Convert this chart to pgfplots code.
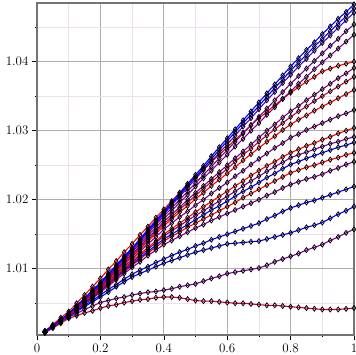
\documentclass[border=0pt]{standalone}
\usepackage{fontspec}
\usepackage{pgfplots}
\pgfplotsset{compat=1.18}
\definecolor{mred}{RGB}{255,0,0}
\definecolor{mblue}{RGB}{0,0,255}
\definecolor{mpurp}{RGB}{128,0,150}
\definecolor{mcrim}{RGB}{205,0,60}
\definecolor{mvio}{RGB}{85,0,210}
\definecolor{mgrid}{RGB}{238,222,238}
\begin{document}
\begin{tikzpicture}
\begin{axis}[name=ax, scale only axis, width=317pt, height=332pt,
  xmin=0, xmax=1, ymin=1.0004, ymax=1.0485,
  xtick={0,0.2,0.4,0.6,0.8,1}, ytick={1.01,1.02,1.03,1.04},
  minor xtick={0.1,0.3,0.5,0.7,0.9}, minor ytick={1.005,1.015,1.025,1.035,1.045},
  scaled y ticks=false,
  grid=both,
  major grid style={color=black!32, line width=0.8pt},
  minor grid style={color=mgrid, line width=0.8pt},
  axis line style={draw=black!55, line width=1.6pt},
  tick align=outside, tick pos=left,
  major tick length=5pt, minor tick length=2pt,
  every tick/.style={black, line width=0.6pt},
  tick label style={font=\fontsize{13}{15}\selectfont},
  /pgf/number format/assume math mode=true,
  yticklabel style={/pgf/number format/.cd, fixed, precision=2, fixed zerofill},
  xticklabel style={/pgf/number format/.cd, fixed, precision=1},
  every axis plot/.append style={line width=1.1pt, mark=diamond, mark size=2.5pt,
     mark options={draw=black, fill=none, line width=0.75pt, solid}},
]
% c19
\addplot[color=mcrim] coordinates {(0.025,1.0007)(0.05,1.0014)(0.075,1.0021)(0.1,1.0028)(0.125,1.0032)(0.15,1.0036)(0.175,1.0039)(0.2,1.0043)(0.225,1.0046)(0.25,1.0048)(0.275,1.0051)(0.3,1.0053)(0.325,1.0055)(0.35,1.0056)(0.375,1.0058)(0.4,1.0059)(0.425,1.0059)(0.45,1.0058)(0.475,1.0056)(0.5,1.0054)(0.525,1.0053)(0.55,1.0053)(0.575,1.0052)(0.6,1.0051)(0.625,1.0050)(0.65,1.0050)(0.675,1.0049)(0.7,1.0048)(0.725,1.0047)(0.75,1.0047)(0.775,1.0046)(0.8,1.0045)(0.825,1.0044)(0.85,1.0043)(0.875,1.0042)(0.9,1.0041)(0.925,1.0041)(0.95,1.0041)(0.975,1.0042)(1,1.0043)};
% c18
\addplot[color=mpurp] coordinates {(0.025,1.0008)(0.05,1.0015)(0.075,1.0023)(0.1,1.0030)(0.125,1.0035)(0.15,1.0041)(0.175,1.0046)(0.2,1.0051)(0.225,1.0054)(0.25,1.0057)(0.275,1.0059)(0.3,1.0062)(0.325,1.0064)(0.35,1.0066)(0.375,1.0067)(0.4,1.0069)(0.425,1.0071)(0.45,1.0074)(0.475,1.0076)(0.5,1.0078)(0.525,1.0082)(0.55,1.0086)(0.575,1.0089)(0.6,1.0093)(0.625,1.0095)(0.65,1.0097)(0.675,1.0099)(0.7,1.0101)(0.725,1.0105)(0.75,1.0110)(0.775,1.0114)(0.8,1.0118)(0.825,1.0122)(0.85,1.0127)(0.875,1.0131)(0.9,1.0135)(0.925,1.0141)(0.95,1.0146)(0.975,1.0152)(1,1.0157)};
% c17
\addplot[color=mblue] coordinates {(0.025,1.0008)(0.05,1.0016)(0.075,1.0023)(0.1,1.0031)(0.125,1.0038)(0.15,1.0045)(0.175,1.0052)(0.2,1.0059)(0.225,1.0066)(0.25,1.0074)(0.275,1.0081)(0.3,1.0088)(0.325,1.0093)(0.35,1.0098)(0.375,1.0103)(0.4,1.0108)(0.425,1.0112)(0.45,1.0116)(0.475,1.0120)(0.5,1.0124)(0.525,1.0127)(0.55,1.0130)(0.575,1.0133)(0.6,1.0136)(0.625,1.0137)(0.65,1.0138)(0.675,1.0139)(0.7,1.0140)(0.725,1.0143)(0.75,1.0146)(0.775,1.0149)(0.8,1.0152)(0.825,1.0156)(0.85,1.0160)(0.875,1.0163)(0.9,1.0167)(0.925,1.0173)(0.95,1.0179)(0.975,1.0184)(1,1.0190)};
% c16
\addplot[color=mblue] coordinates {(0.025,1.0008)(0.05,1.0016)(0.075,1.0023)(0.1,1.0031)(0.125,1.0039)(0.15,1.0047)(0.175,1.0054)(0.2,1.0062)(0.225,1.0070)(0.25,1.0077)(0.275,1.0085)(0.3,1.0092)(0.325,1.0098)(0.35,1.0103)(0.375,1.0109)(0.4,1.0114)(0.425,1.0119)(0.45,1.0124)(0.475,1.0128)(0.5,1.0133)(0.525,1.0137)(0.55,1.0142)(0.575,1.0146)(0.6,1.0150)(0.625,1.0154)(0.65,1.0158)(0.675,1.0162)(0.7,1.0166)(0.725,1.0172)(0.75,1.0177)(0.775,1.0183)(0.8,1.0188)(0.825,1.0192)(0.85,1.0196)(0.875,1.0199)(0.9,1.0203)(0.925,1.0207)(0.95,1.0211)(0.975,1.0215)(1,1.0219)};
% c15
\addplot[color=mpurp] coordinates {(0.025,1.0008)(0.05,1.0016)(0.075,1.0023)(0.1,1.0031)(0.125,1.0040)(0.15,1.0049)(0.175,1.0057)(0.2,1.0066)(0.225,1.0075)(0.25,1.0084)(0.275,1.0093)(0.3,1.0102)(0.325,1.0110)(0.35,1.0119)(0.375,1.0127)(0.4,1.0135)(0.425,1.0141)(0.45,1.0147)(0.475,1.0153)(0.5,1.0159)(0.525,1.0164)(0.55,1.0170)(0.575,1.0175)(0.6,1.0180)(0.625,1.0185)(0.65,1.0190)(0.675,1.0195)(0.7,1.0200)(0.725,1.0206)(0.75,1.0211)(0.775,1.0217)(0.8,1.0222)(0.825,1.0226)(0.85,1.0230)(0.875,1.0233)(0.9,1.0237)(0.925,1.0242)(0.95,1.0246)(0.975,1.0251)(1,1.0255)};
% c14
\addplot[color=mred] coordinates {(0.025,1.0008)(0.05,1.0016)(0.075,1.0024)(0.1,1.0032)(0.125,1.0041)(0.15,1.0050)(0.175,1.0058)(0.2,1.0067)(0.225,1.0077)(0.25,1.0086)(0.275,1.0096)(0.3,1.0105)(0.325,1.0114)(0.35,1.0123)(0.375,1.0131)(0.4,1.0140)(0.425,1.0147)(0.45,1.0153)(0.475,1.0160)(0.5,1.0166)(0.525,1.0172)(0.55,1.0178)(0.575,1.0184)(0.6,1.0190)(0.625,1.0196)(0.65,1.0203)(0.675,1.0209)(0.7,1.0215)(0.725,1.0221)(0.75,1.0227)(0.775,1.0233)(0.8,1.0239)(0.825,1.0243)(0.85,1.0247)(0.875,1.0250)(0.9,1.0254)(0.925,1.0258)(0.95,1.0261)(0.975,1.0265)(1,1.0268)};
% c13
\addplot[color=mblue] coordinates {(0.025,1.0008)(0.05,1.0016)(0.075,1.0024)(0.1,1.0032)(0.125,1.0041)(0.15,1.0050)(0.175,1.0059)(0.2,1.0068)(0.225,1.0078)(0.25,1.0088)(0.275,1.0097)(0.3,1.0107)(0.325,1.0116)(0.35,1.0125)(0.375,1.0134)(0.4,1.0143)(0.425,1.0150)(0.45,1.0157)(0.475,1.0164)(0.5,1.0171)(0.525,1.0178)(0.55,1.0185)(0.575,1.0191)(0.6,1.0198)(0.625,1.0205)(0.65,1.0212)(0.675,1.0218)(0.7,1.0225)(0.725,1.0232)(0.75,1.0238)(0.775,1.0245)(0.8,1.0251)(0.825,1.0255)(0.85,1.0260)(0.875,1.0264)(0.9,1.0268)(0.925,1.0272)(0.95,1.0276)(0.975,1.0279)(1,1.0283)};
% c12
\addplot[color=mpurp] coordinates {(0.025,1.0008)(0.05,1.0016)(0.075,1.0024)(0.1,1.0032)(0.125,1.0041)(0.15,1.0051)(0.175,1.0060)(0.2,1.0069)(0.225,1.0079)(0.25,1.0089)(0.275,1.0099)(0.3,1.0109)(0.325,1.0119)(0.35,1.0128)(0.375,1.0138)(0.4,1.0147)(0.425,1.0155)(0.45,1.0162)(0.475,1.0170)(0.5,1.0177)(0.525,1.0184)(0.55,1.0191)(0.575,1.0198)(0.6,1.0205)(0.625,1.0212)(0.65,1.0220)(0.675,1.0227)(0.7,1.0234)(0.725,1.0241)(0.75,1.0248)(0.775,1.0254)(0.8,1.0261)(0.825,1.0265)(0.85,1.0269)(0.875,1.0273)(0.9,1.0277)(0.925,1.0281)(0.95,1.0284)(0.975,1.0288)(1,1.0291)};
% c11
\addplot[color=mred] coordinates {(0.025,1.0008)(0.05,1.0017)(0.075,1.0025)(0.1,1.0033)(0.125,1.0042)(0.15,1.0052)(0.175,1.0061)(0.2,1.0070)(0.225,1.0080)(0.25,1.0091)(0.275,1.0101)(0.3,1.0111)(0.325,1.0121)(0.35,1.0131)(0.375,1.0140)(0.4,1.0150)(0.425,1.0158)(0.45,1.0166)(0.475,1.0174)(0.5,1.0182)(0.525,1.0190)(0.55,1.0197)(0.575,1.0205)(0.6,1.0212)(0.625,1.0220)(0.65,1.0227)(0.675,1.0235)(0.7,1.0242)(0.725,1.0249)(0.75,1.0255)(0.775,1.0262)(0.8,1.0268)(0.825,1.0273)(0.85,1.0278)(0.875,1.0282)(0.9,1.0287)(0.925,1.0291)(0.95,1.0296)(0.975,1.0300)(1,1.0304)};
% c10
\addplot[color=mpurp] coordinates {(0.025,1.0008)(0.05,1.0017)(0.075,1.0025)(0.1,1.0033)(0.125,1.0043)(0.15,1.0052)(0.175,1.0062)(0.2,1.0071)(0.225,1.0082)(0.25,1.0093)(0.275,1.0103)(0.3,1.0114)(0.325,1.0125)(0.35,1.0136)(0.375,1.0146)(0.4,1.0157)(0.425,1.0166)(0.45,1.0175)(0.475,1.0183)(0.5,1.0192)(0.525,1.0200)(0.55,1.0209)(0.575,1.0217)(0.6,1.0225)(0.625,1.0234)(0.65,1.0242)(0.675,1.0251)(0.7,1.0259)(0.725,1.0267)(0.75,1.0275)(0.775,1.0282)(0.8,1.0290)(0.825,1.0295)(0.85,1.0301)(0.875,1.0306)(0.9,1.0311)(0.925,1.0316)(0.95,1.0321)(0.975,1.0325)(1,1.0330)};
% c9
\addplot[color=mred] coordinates {(0.025,1.0008)(0.05,1.0017)(0.075,1.0025)(0.1,1.0033)(0.125,1.0043)(0.15,1.0053)(0.175,1.0063)(0.2,1.0073)(0.225,1.0084)(0.25,1.0095)(0.275,1.0106)(0.3,1.0117)(0.325,1.0128)(0.35,1.0140)(0.375,1.0151)(0.4,1.0162)(0.425,1.0172)(0.45,1.0182)(0.475,1.0191)(0.5,1.0201)(0.525,1.0210)(0.55,1.0220)(0.575,1.0229)(0.6,1.0238)(0.625,1.0247)(0.65,1.0257)(0.675,1.0266)(0.7,1.0275)(0.725,1.0284)(0.75,1.0292)(0.775,1.0301)(0.8,1.0309)(0.825,1.0316)(0.85,1.0322)(0.875,1.0329)(0.9,1.0335)(0.925,1.0341)(0.95,1.0347)(0.975,1.0353)(1,1.0359)};
% c8
\addplot[color=mcrim] coordinates {(0.025,1.0009)(0.05,1.0017)(0.075,1.0026)(0.1,1.0034)(0.125,1.0044)(0.15,1.0054)(0.175,1.0064)(0.2,1.0074)(0.225,1.0085)(0.25,1.0097)(0.275,1.0108)(0.3,1.0119)(0.325,1.0131)(0.35,1.0142)(0.375,1.0154)(0.4,1.0165)(0.425,1.0175)(0.45,1.0186)(0.475,1.0196)(0.5,1.0206)(0.525,1.0216)(0.55,1.0226)(0.575,1.0235)(0.6,1.0245)(0.625,1.0255)(0.65,1.0265)(0.675,1.0274)(0.7,1.0284)(0.725,1.0293)(0.75,1.0302)(0.775,1.0311)(0.8,1.0320)(0.825,1.0328)(0.85,1.0335)(0.875,1.0343)(0.9,1.0350)(0.925,1.0357)(0.95,1.0364)(0.975,1.0371)(1,1.0378)};
% c7
\addplot[color=mpurp] coordinates {(0.025,1.0009)(0.05,1.0017)(0.075,1.0026)(0.1,1.0034)(0.125,1.0044)(0.15,1.0055)(0.175,1.0065)(0.2,1.0075)(0.225,1.0087)(0.25,1.0098)(0.275,1.0110)(0.3,1.0121)(0.325,1.0133)(0.35,1.0145)(0.375,1.0156)(0.4,1.0168)(0.425,1.0179)(0.45,1.0189)(0.475,1.0200)(0.5,1.0210)(0.525,1.0220)(0.55,1.0230)(0.575,1.0240)(0.6,1.0250)(0.625,1.0260)(0.65,1.0270)(0.675,1.0280)(0.7,1.0290)(0.725,1.0300)(0.75,1.0309)(0.775,1.0319)(0.8,1.0328)(0.825,1.0336)(0.85,1.0344)(0.875,1.0352)(0.9,1.0360)(0.925,1.0368)(0.95,1.0376)(0.975,1.0383)(1,1.0391)};
% c6
\addplot[color=mred] coordinates {(0.025,1.0010)(0.05,1.0019)(0.075,1.0029)(0.1,1.0038)(0.125,1.0050)(0.15,1.0062)(0.175,1.0074)(0.2,1.0086)(0.225,1.0099)(0.25,1.0111)(0.275,1.0124)(0.3,1.0136)(0.325,1.0149)(0.35,1.0161)(0.375,1.0174)(0.4,1.0186)(0.425,1.0198)(0.45,1.0210)(0.475,1.0221)(0.5,1.0233)(0.525,1.0244)(0.55,1.0255)(0.575,1.0265)(0.6,1.0276)(0.625,1.0287)(0.65,1.0297)(0.675,1.0308)(0.7,1.0318)(0.725,1.0327)(0.75,1.0337)(0.775,1.0346)(0.8,1.0355)(0.825,1.0363)(0.85,1.0371)(0.875,1.0378)(0.9,1.0386)(0.925,1.0390)(0.95,1.0394)(0.975,1.0397)(1,1.0400)};
% c5
\addplot[color=mpurp] coordinates {(0.025,1.0009)(0.05,1.0017)(0.075,1.0026)(0.1,1.0034)(0.125,1.0045)(0.15,1.0055)(0.175,1.0066)(0.2,1.0076)(0.225,1.0088)(0.25,1.0100)(0.275,1.0112)(0.3,1.0124)(0.325,1.0136)(0.35,1.0148)(0.375,1.0160)(0.4,1.0172)(0.425,1.0184)(0.45,1.0196)(0.475,1.0207)(0.5,1.0219)(0.525,1.0231)(0.55,1.0242)(0.575,1.0254)(0.6,1.0265)(0.625,1.0277)(0.65,1.0288)(0.675,1.0300)(0.7,1.0311)(0.725,1.0323)(0.75,1.0334)(0.775,1.0346)(0.8,1.0357)(0.825,1.0368)(0.85,1.0378)(0.875,1.0389)(0.9,1.0399)(0.925,1.0409)(0.95,1.0419)(0.975,1.0429)(1,1.0439)};
% c4
\addplot[color=mpurp] coordinates {(0.025,1.0009)(0.05,1.0017)(0.075,1.0026)(0.1,1.0034)(0.125,1.0045)(0.15,1.0056)(0.175,1.0066)(0.2,1.0077)(0.225,1.0089)(0.25,1.0102)(0.275,1.0114)(0.3,1.0126)(0.325,1.0139)(0.35,1.0151)(0.375,1.0164)(0.4,1.0176)(0.425,1.0188)(0.45,1.0200)(0.475,1.0212)(0.5,1.0224)(0.525,1.0236)(0.55,1.0248)(0.575,1.0260)(0.6,1.0272)(0.625,1.0284)(0.65,1.0296)(0.675,1.0308)(0.7,1.0320)(0.725,1.0332)(0.75,1.0344)(0.775,1.0356)(0.8,1.0368)(0.825,1.0379)(0.85,1.0390)(0.875,1.0401)(0.9,1.0412)(0.925,1.0423)(0.95,1.0433)(0.975,1.0444)(1,1.0454)};
% c3
\addplot[color=mvio] coordinates {(0.025,1.0009)(0.05,1.0017)(0.075,1.0026)(0.1,1.0035)(0.125,1.0046)(0.15,1.0057)(0.175,1.0067)(0.2,1.0078)(0.225,1.0091)(0.25,1.0103)(0.275,1.0116)(0.3,1.0128)(0.325,1.0141)(0.35,1.0154)(0.375,1.0166)(0.4,1.0179)(0.425,1.0192)(0.45,1.0205)(0.475,1.0217)(0.5,1.0230)(0.525,1.0243)(0.55,1.0255)(0.575,1.0268)(0.6,1.0280)(0.625,1.0293)(0.65,1.0306)(0.675,1.0318)(0.7,1.0331)(0.725,1.0344)(0.75,1.0356)(0.775,1.0369)(0.8,1.0381)(0.825,1.0393)(0.85,1.0404)(0.875,1.0416)(0.9,1.0427)(0.925,1.0438)(0.95,1.0449)(0.975,1.0460)(1,1.0471)};
% c2
\addplot[color=mblue] coordinates {(0.025,1.0009)(0.05,1.0017)(0.075,1.0026)(0.1,1.0035)(0.125,1.0046)(0.15,1.0057)(0.175,1.0068)(0.2,1.0079)(0.225,1.0092)(0.25,1.0104)(0.275,1.0117)(0.3,1.0129)(0.325,1.0142)(0.35,1.0155)(0.375,1.0168)(0.4,1.0181)(0.425,1.0194)(0.45,1.0207)(0.475,1.0220)(0.5,1.0233)(0.525,1.0246)(0.55,1.0259)(0.575,1.0272)(0.6,1.0285)(0.625,1.0298)(0.65,1.0311)(0.675,1.0323)(0.7,1.0336)(0.725,1.0349)(0.75,1.0362)(0.775,1.0374)(0.8,1.0387)(0.825,1.0399)(0.85,1.0410)(0.875,1.0422)(0.9,1.0433)(0.925,1.0444)(0.95,1.0455)(0.975,1.0466)(1,1.0477)};
% c1
\addplot[color=mblue] coordinates {(0.025,1.0009)(0.05,1.0017)(0.075,1.0026)(0.1,1.0035)(0.125,1.0046)(0.15,1.0057)(0.175,1.0069)(0.2,1.0080)(0.225,1.0093)(0.25,1.0105)(0.275,1.0118)(0.3,1.0130)(0.325,1.0143)(0.35,1.0157)(0.375,1.0170)(0.4,1.0183)(0.425,1.0196)(0.45,1.0210)(0.475,1.0223)(0.5,1.0236)(0.525,1.0249)(0.55,1.0263)(0.575,1.0276)(0.6,1.0289)(0.625,1.0302)(0.65,1.0315)(0.675,1.0328)(0.7,1.0341)(0.725,1.0354)(0.75,1.0367)(0.775,1.0380)(0.8,1.0393)(0.825,1.0405)(0.85,1.0417)(0.875,1.0428)(0.9,1.0440)(0.925,1.0451)(0.95,1.0462)(0.975,1.0472)(1,1.0483)};
\end{axis}
\pgfresetboundingbox
\path ([xshift=-37pt,yshift=-20pt]ax.south west) rectangle ([xshift=1pt,yshift=3pt]ax.north east);
\end{tikzpicture}
\end{document}
